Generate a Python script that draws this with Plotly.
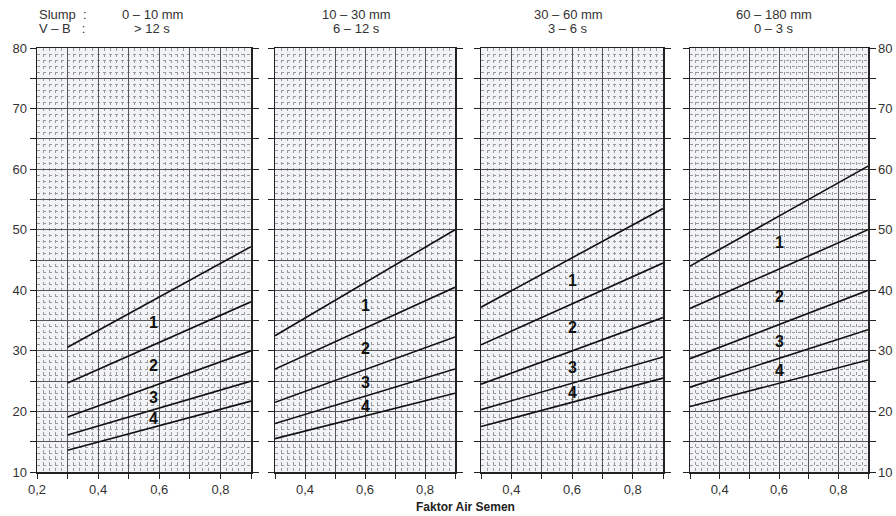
import numpy as np
import plotly.graph_objects as go

# ---------------- data ----------------
wcr = [0.3, 0.9]  # Faktor Air Semen at the two ends of each line

slump_text = ["0 – 10 mm", "10 – 30 mm", "30 – 60 mm", "60 – 180 mm"]
vb_text = ["> 12 s", "6 – 12 s", "3 – 6 s", "0 – 3 s"]

p1_lines = [[30.6, 47.2], [24.7, 38.1], [19.1, 30.0], [16.1, 25.0], [13.6, 21.7]]
p2_lines = [[32.5, 50.0], [27.0, 40.5], [21.5, 32.3], [18.0, 27.0], [15.5, 23.0]]
p3_lines = [[37.2, 53.5], [31.0, 44.5], [24.5, 35.5], [20.3, 29.0], [17.5, 25.5]]
p4_lines = [[44.0, 60.5], [37.0, 50.0], [28.7, 40.0], [24.0, 33.5], [20.8, 28.5]]
zone_labels = ["1", "2", "3", "4"]

y_ticks = list(range(10, 81, 5))
y_ticktext = [str(v) if v % 10 == 0 else "" for v in y_ticks]

# ---------------- layout ----------------
W, H = 896, 516
panels = [p1_lines, p2_lines, p3_lines, p4_lines]
xranges = [[0.2, 0.9], [0.3, 0.9], [0.3, 0.9], [0.3, 0.9]]
px_dom = [(37, 251), (275, 455), (481, 663), (690, 868)]
label_x = [0.58, 0.6, 0.6, 0.6]
title_px = [152, 356, 568, 774]
ydom = [1 - 472 / H, 1 - 48 / H]

FONT = "Liberation Sans, Arial, sans-serif"
TXT = "#333333"
MAJOR = "#555555"
MINOR = "#9a9a9a"
BOX = "#222222"

fig = go.Figure()
layout = dict(
    width=W, height=H, margin=dict(l=0, r=0, t=0, b=0, autoexpand=False),
    paper_bgcolor="white", plot_bgcolor="#f1f3f6",
    showlegend=False, font=dict(family=FONT, size=12, color=TXT),
)
annotations = []

for i, lines in enumerate(panels):
    n = i + 1
    xa = "x" if n == 1 else f"x{n}"
    ya = "y" if n == 1 else f"y{n}"
    for ln in lines:
        fig.add_trace(go.Scatter(x=wcr, y=ln, mode="lines",
                                 line=dict(color="#111111", width=1.6),
                                 xaxis=xa, yaxis=ya, hoverinfo="skip"))
    lo, hi = xranges[i]
    xt = [round(v, 2) for v in np.arange(lo, hi + 1e-9, 0.1)]
    xtt = [("%.1f" % v).replace(".", ",") if round(v * 10) % 2 == 0 else "" for v in xt]
    xminor = [round(v, 2) for v in np.arange(lo, hi + 1e-9, 0.02)]
    yminor = list(range(10, 81, 1))
    xkey = "xaxis" if n == 1 else f"xaxis{n}"
    ykey = "yaxis" if n == 1 else f"yaxis{n}"
    layout[xkey] = dict(
        domain=[px_dom[i][0] / W, px_dom[i][1] / W], range=[lo, hi],
        anchor=ya, tickmode="array", tickvals=xt, ticktext=xtt,
        ticks="outside", ticklen=5, tickcolor=BOX, tickwidth=1,
        showgrid=True, gridcolor=MAJOR, gridwidth=1,
        showline=True, linecolor=BOX, linewidth=1.5, mirror=True,
        zeroline=False, tickfont=dict(size=13, color=TXT), automargin=False,
        minor=dict(tickmode="array", tickvals=xminor, showgrid=True,
                   gridcolor=MINOR, griddash="dot", gridwidth=1, ticks=""),
        fixedrange=True,
    )
    yax = dict(
        domain=ydom, range=[10, 80], anchor=xa,
        tickmode="array", tickvals=y_ticks, ticktext=y_ticktext,
        ticks="outside", ticklen=6, tickcolor=BOX, tickwidth=1,
        showgrid=True, gridcolor=MAJOR, gridwidth=1,
        showline=True, linecolor=BOX, linewidth=1.5, mirror="ticks",
        zeroline=False, tickfont=dict(size=13, color=TXT), automargin=False,
        minor=dict(tickmode="array", tickvals=yminor, showgrid=True,
                   gridcolor=MINOR, griddash="dot", gridwidth=1, ticks=""),
        fixedrange=True,
    )
    if n == 1:
        yax["side"] = "left"
        yax["showticklabels"] = True
    elif n == 4:
        yax["side"] = "right"
        yax["showticklabels"] = True
    else:
        yax["showticklabels"] = False
    layout[ykey] = yax

    # zone labels, placed midway between neighbouring lines
    lx = label_x[i]
    t = (lx - wcr[0]) / (wcr[1] - wcr[0])
    vals = [ln[0] + (ln[1] - ln[0]) * t for ln in lines]
    for k, lab in enumerate(zone_labels):
        annotations.append(dict(
            x=lx, y=(vals[k] + vals[k + 1]) / 2, xref=xa, yref=ya,
            text="<b>" + lab + "</b>", showarrow=False,
            font=dict(size=16, color="#111111", family=FONT),
        ))
    # panel headers
    annotations.append(dict(x=title_px[i] / W, y=1 - 14 / H, xref="paper", yref="paper",
                            text=slump_text[i], showarrow=False, xanchor="center",
                            yanchor="middle", font=dict(size=13, color=TXT)))
    annotations.append(dict(x=title_px[i] / W, y=1 - 29 / H, xref="paper", yref="paper",
                            text=vb_text[i], showarrow=False, xanchor="center",
                            yanchor="middle", font=dict(size=13, color=TXT)))

annotations.append(dict(x=37 / W, y=1 - 14 / H, xref="paper", yref="paper",
                        text="Slump  :", showarrow=False, xanchor="left",
                        yanchor="middle", font=dict(size=13, color=TXT)))
annotations.append(dict(x=37 / W, y=1 - 29 / H, xref="paper", yref="paper",
                        text="V – B   :", showarrow=False, xanchor="left",
                        yanchor="middle", font=dict(size=13, color=TXT)))
annotations.append(dict(x=465 / W, y=1 - 507 / H, xref="paper", yref="paper",
                        text="<b>Faktor Air Semen</b>", showarrow=False,
                        xanchor="center", yanchor="middle",
                        font=dict(size=12, color="#222222")))

layout["annotations"] = annotations
fig.update_layout(**layout)
fig.write_html(
    "out.html",
    config={"displayModeBar": False, "staticPlot": True},
    post_script="document.body.style.margin='0';document.body.style.overflow='hidden';",
)
